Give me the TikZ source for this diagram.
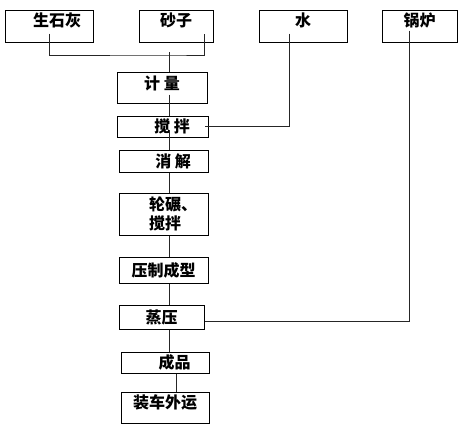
\documentclass[tikz,border=0pt]{standalone}
\usepackage{fontspec}
\newfontfamily\cjk{Noto Sans CJK SC}
\usepackage{tikz}

\begin{document}
\begin{tikzpicture}[x=1pt,y=-1pt,
    box/.style={draw, line width=1pt, inner sep=1pt, font=\cjk\bfseries\fontsize{16}{19}\selectfont},
    source/.style={box, minimum height=32pt, text depth=13pt},
    link/.style={line width=1pt, black!85}]
    \useasboundingbox (0,0) rectangle (473,431);

    % Raw materials
    \node[source, minimum width=88pt] (lime) at (49,26) {\hspace{1em}生石灰};
    \node[source, minimum width=74pt] (sand) at (176,26) {砂子};
    \node[source, minimum width=88pt] (water) at (303,26) {水};
    \node[source, minimum width=75pt] (boiler) at (419.5,26) {锅炉};

    % Process steps
    \node[box, minimum width=90pt, minimum height=31pt, text depth=9pt] (meas) at (162,87.5) {计 量};
    \node[box, minimum width=91pt, minimum height=21pt] (mix) at (162.5,126.5) {\hspace{1.2em}搅 拌};
    \node[box, minimum width=89pt, minimum height=22pt] (slake) at (163.5,161) {\hspace{1.2em}消 解};
    \node[box, minimum width=89pt, minimum height=42pt, align=left] (grind) at (163.5,214)
        {\hspace{1.2em}轮碾、\\ \hspace{1.2em}搅拌};
    \node[box, minimum width=89pt, minimum height=26pt] (press) at (163.5,270) {压制成型};
    \node[box, minimum width=85pt, minimum height=24pt] (steam) at (161.5,317) {蒸压};
    \node[box, minimum width=88pt, minimum height=21pt] (prod) at (165,362.5) {\hspace{1.2em}成品};
    \node[box, minimum width=88pt, minimum height=31pt, text depth=12pt] (ship) at (165,407.5) {装车外运};

    % Main line
    \coordinate (trunk) at (169,55);
    \draw[link] ([yshift=9pt]lime.south) |- (trunk) -| ([xshift=-9pt,yshift=9pt]sand.south east);
    \draw[link] ([yshift=3pt]trunk) -- (meas.north -| trunk);
    \draw[link, shorten <=-9pt] (meas.south -| trunk) -- (mix.north -| trunk);
    \draw[link, shorten <=-7pt] (mix.south -| trunk) -- (slake.north -| trunk);
    \draw[link] (slake.south -| trunk) -- (grind.north -| trunk);
    \draw[link] (grind.south -| trunk) -- (press.north -| trunk);
    \draw[link] (press.south -| trunk) -- (steam.north -| trunk);
    \draw[link] (steam.south -| trunk) -- (prod.north -| trunk);
    \draw[link] ([xshift=11pt]prod.south) -- ([xshift=11pt]ship.north);

    % Water and steam feeds
    \draw[link, shorten <=-9pt, shorten >=-4pt] ([xshift=-14pt]water.south) |- (mix.east);
    \draw[link, shorten <=-12pt] ([xshift=-10pt]boiler.south) |- ([yshift=-4pt]steam.east);
\end{tikzpicture}
\end{document}
